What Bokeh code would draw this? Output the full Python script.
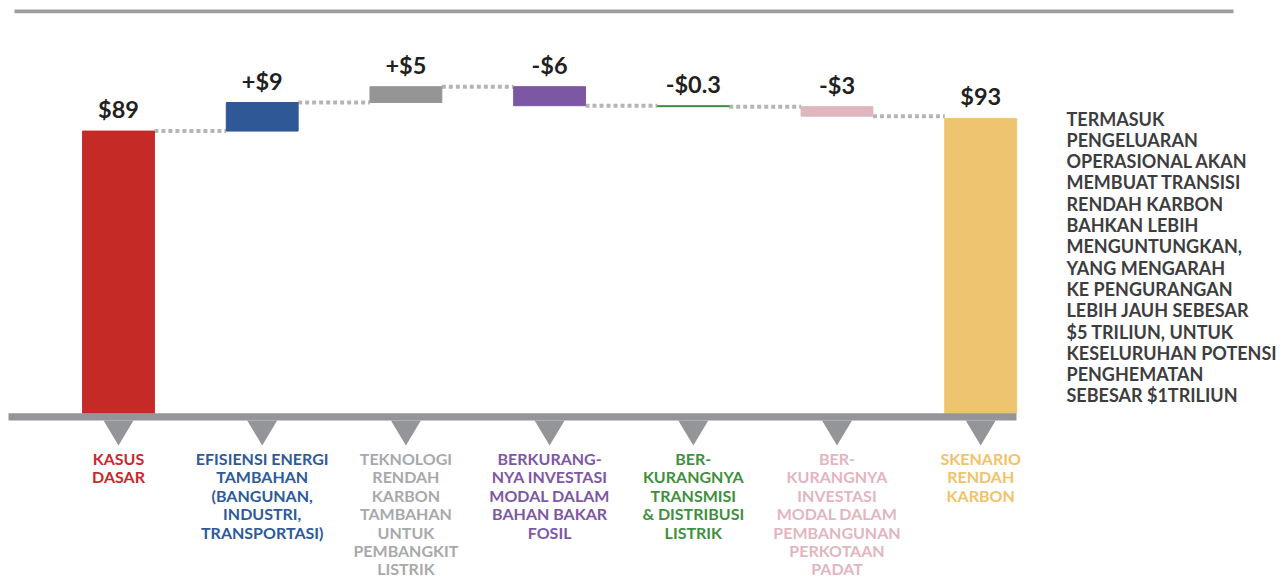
from bokeh.plotting import figure
from bokeh.models import Range1d, ColumnDataSource
from bokeh.core.properties import value
from bokeh.embed import file_html
from bokeh.resources import INLINE

# --- data -------------------------------------------------------------
categories = [
    "KASUS DASAR",
    "EFISIENSI ENERGI TAMBAHAN (BANGUNAN, INDUSTRI, TRANSPORTASI)",
    "TEKNOLOGI RENDAH KARBON TAMBAHAN UNTUK PEMBANGKIT LISTRIK",
    "BERKURANGNYA INVESTASI MODAL DALAM BAHAN BAKAR FOSIL",
    "BERKURANGNYA TRANSMISI & DISTRIBUSI LISTRIK",
    "BERKURANGNYA INVESTASI MODAL DALAM PEMBANGUNAN PERKOTAAN PADAT",
    "SKENARIO RENDAH KARBON",
]
category_lines = [
    ["KASUS", "DASAR"],
    ["EFISIENSI ENERGI", "TAMBAHAN", "(BANGUNAN,", "INDUSTRI,", "TRANSPORTASI)"],
    ["TEKNOLOGI", "RENDAH", "KARBON", "TAMBAHAN", "UNTUK", "PEMBANGKIT", "LISTRIK"],
    ["BERKURANG-", "NYA INVESTASI", "MODAL DALAM", "BAHAN BAKAR", "FOSIL"],
    ["BER-", "KURANGNYA", "TRANSMISI", "& DISTRIBUSI", "LISTRIK"],
    ["BER-", "KURANGNYA", "INVESTASI", "MODAL DALAM", "PEMBANGUNAN", "PERKOTAAN", "PADAT"],
    ["SKENARIO", "RENDAH", "KARBON"],
]
values = [89, 9, 5, -6, -0.3, -3, 93]          # triliun USD
is_total = [True, False, False, False, False, False, True]
value_labels = ["$89", "+$9", "+$5", "-$6", "-$0.3", "-$3", "$93"]
note_lines = [
    "TERMASUK",
    "PENGELUARAN",
    "OPERASIONAL AKAN",
    "MEMBUAT TRANSISI",
    "RENDAH KARBON",
    "BAHKAN LEBIH",
    "MENGUNTUNGKAN,",
    "YANG MENGARAH",
    "KE PENGURANGAN",
    "LEBIH JAUH SEBESAR",
    "$5 TRILIUN, UNTUK",
    "KESELURUHAN POTENSI",
    "PENGHEMATAN",
    "SEBESAR $1TRILIUN",
]

# --- styling ----------------------------------------------------------
bar_colors = ["#c62a27", "#2e5896", "#959598", "#7b57a4", "#3d8b3d", "#e0b6be", "#efc46f"]
label_colors = ["#c9282d", "#2e5a9a", "#a7a9ac", "#7e57a4", "#3f8f3f", "#e3b5bf", "#f0c26a"]
FONT = value("Lato")
W, H = 1288, 579

# canvas <-> data helpers (category index on x, value on y)
X0, DX = 118.0, 143.7
Y0, S = 412.7, 3.17


def dx(px):
    return (px - X0) / DX


def dy(py):
    return (Y0 - py) / S


def dlen_y(pxlen):
    return pxlen / S


# --- waterfall geometry ----------------------------------------------
bottoms, tops, levels = [], [], []
running = 0.0
for v, tot in zip(values, is_total):
    if tot:
        b, t = 0.0, v
        running = v
    else:
        start, end = running, running + v
        b, t = min(start, end), max(start, end)
        running = end
    bottoms.append(b)
    tops.append(t)
    levels.append(running)

xs = list(range(len(values)))
half = 0.25

p = figure(width=W, height=H, x_range=Range1d(dx(0), dx(W)), y_range=Range1d(dy(H), dy(0)),
           output_backend="svg", toolbar_location=None, min_border=0,
           x_axis_type=None, y_axis_type=None)
p.grid.visible = False
p.outline_line_color = None
p.background_fill_color = "white"
p.border_fill_color = "white"

# top rule
p.quad(left=[dx(14)], right=[dx(1233)], bottom=[dy(12.7)], top=[dy(9)],
       fill_color="#9d9d9f", line_color=None)

# dotted connectors between bars
p.segment(x0=[i + half for i in xs[:-1]], x1=[i + 1 - half for i in xs[:-1]],
          y0=levels[:-1], y1=levels[:-1],
          line_color="#b5b5b5", line_width=4, line_dash="4 3", line_cap="butt")

bars = ColumnDataSource(dict(left=[i - half for i in xs], right=[i + half for i in xs],
                             bottom=bottoms, top=tops, color=bar_colors))
p.quad(left="left", right="right", bottom="bottom", top="top", source=bars,
       fill_color="color", line_color="color", line_width=1)

# baseline band and pointer triangles
base_bottom = -dlen_y(7.3)
p.quad(left=[dx(8)], right=[dx(1016)], bottom=[base_bottom], top=[0],
       fill_color="#939598", line_color=None)
tri_half = 15 / DX
apex = dy(445)
p.patches(xs=[[i - tri_half, i + tri_half, i] for i in xs],
          ys=[[base_bottom, base_bottom, apex] for _ in xs],
          fill_color="#939598", line_color=None)

# value labels above each bar
gap = dlen_y(22)
p.text(x=xs, y=[t + gap for t in tops], text=value_labels,
       text_font=FONT, text_font_style="bold", text_font_size="23.5px",
       text_align="center", text_baseline="alphabetic", text_color="#231f20")

# category labels under the axis
line_step = 18.4
cx, cy, ct, cc = [], [], [], []
for i, lines in enumerate(category_lines):
    for k, ln in enumerate(lines):
        cx.append(i)
        cy.append(dy(458 + k * line_step))
        ct.append(ln)
        cc.append(label_colors[i])
p.text(x="x", y="y", text="text", text_color="color",
       source=ColumnDataSource(dict(x=cx, y=cy, text=ct, color=cc)),
       text_font=FONT, text_font_style="bold", text_font_size="16px",
       text_align="center", text_baseline="middle")

# side note
note_step = 21.3
p.text(x=[dx(1066)] * len(note_lines),
       y=[dy(118 + k * note_step) for k in range(len(note_lines))],
       text=note_lines, text_font=FONT, text_font_style="bold", text_font_size="18px",
       text_align="left", text_baseline="middle", text_color="#3d3d3f")

open("out.html", "w").write(file_html(p, INLINE))
